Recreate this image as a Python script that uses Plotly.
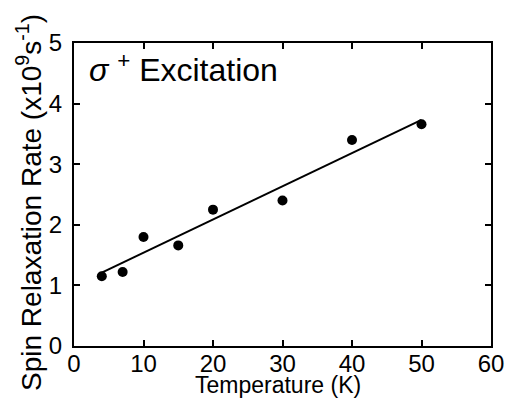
import plotly.graph_objects as go

temperature = [4, 7, 10, 15, 20, 30, 40, 50]
rate = [1.15, 1.22, 1.80, 1.66, 2.25, 2.40, 3.40, 3.66]
fit_T = [4, 50]
fit_rate = [1.21, 3.73]

x_ticks = [0, 10, 20, 30, 40, 50, 60]
y_ticks = [0, 1, 2, 3, 4, 5]

FONT = "Liberation Sans, Arial, sans-serif"

fig = go.Figure()
fig.add_trace(go.Scatter(x=fit_T, y=fit_rate, mode="lines",
                         line=dict(color="black", width=2), showlegend=False))
fig.add_trace(go.Scatter(x=temperature, y=rate, mode="markers",
                         marker=dict(color="black", size=10), showlegend=False))

fig.add_annotation(x=1.8, y=4.58, xref="x", yref="y", xanchor="left", yanchor="middle",
                   text="<i>σ</i> <sup>+</sup> Excitation", showarrow=False,
                   font=dict(family=FONT, size=32, color="black"))

# axis titles as annotations for exact placement
fig.add_annotation(x=0.49, y=0, xref="paper", yref="paper", xanchor="center", yanchor="top",
                   yshift=-24, text="Temperature (K)", showarrow=False,
                   font=dict(family=FONT, size=23, color="black"))
fig.add_annotation(x=0, y=0.472, xref="paper", yref="paper", xanchor="center", yanchor="middle",
                   xshift=-45, textangle=-90,
                   text="Spin Relaxation Rate (x10<sup>9</sup>s<sup>-1</sup>)", showarrow=False,
                   font=dict(family=FONT, size=28, color="black"))

axis_common = dict(showline=True, linecolor="black", linewidth=2, mirror="ticks",
                   ticks="inside", ticklen=6, tickwidth=1.5, tickcolor="black",
                   showgrid=False, zeroline=False, automargin=False,
                   tickfont=dict(family=FONT, size=24, color="black"))

fig.update_xaxes(range=[0, 60], tickvals=x_ticks, ticktext=[str(v) for v in x_ticks],
                 ticklabelstandoff=-5, **axis_common)
fig.update_yaxes(range=[0, 5], tickvals=y_ticks, ticktext=[str(v) for v in y_ticks],
                 ticklabelstandoff=5, **axis_common)

fig.update_layout(width=505, height=398, margin=dict(l=74, r=14, t=43, b=52),
                  plot_bgcolor="white", paper_bgcolor="white",
                  font=dict(family=FONT, color="black"))

# remove the page's default 8px body margin so the figure fills the window
fig.write_html("out.html", config={"displayModeBar": False},
               post_script="document.body.style.margin='0';")
